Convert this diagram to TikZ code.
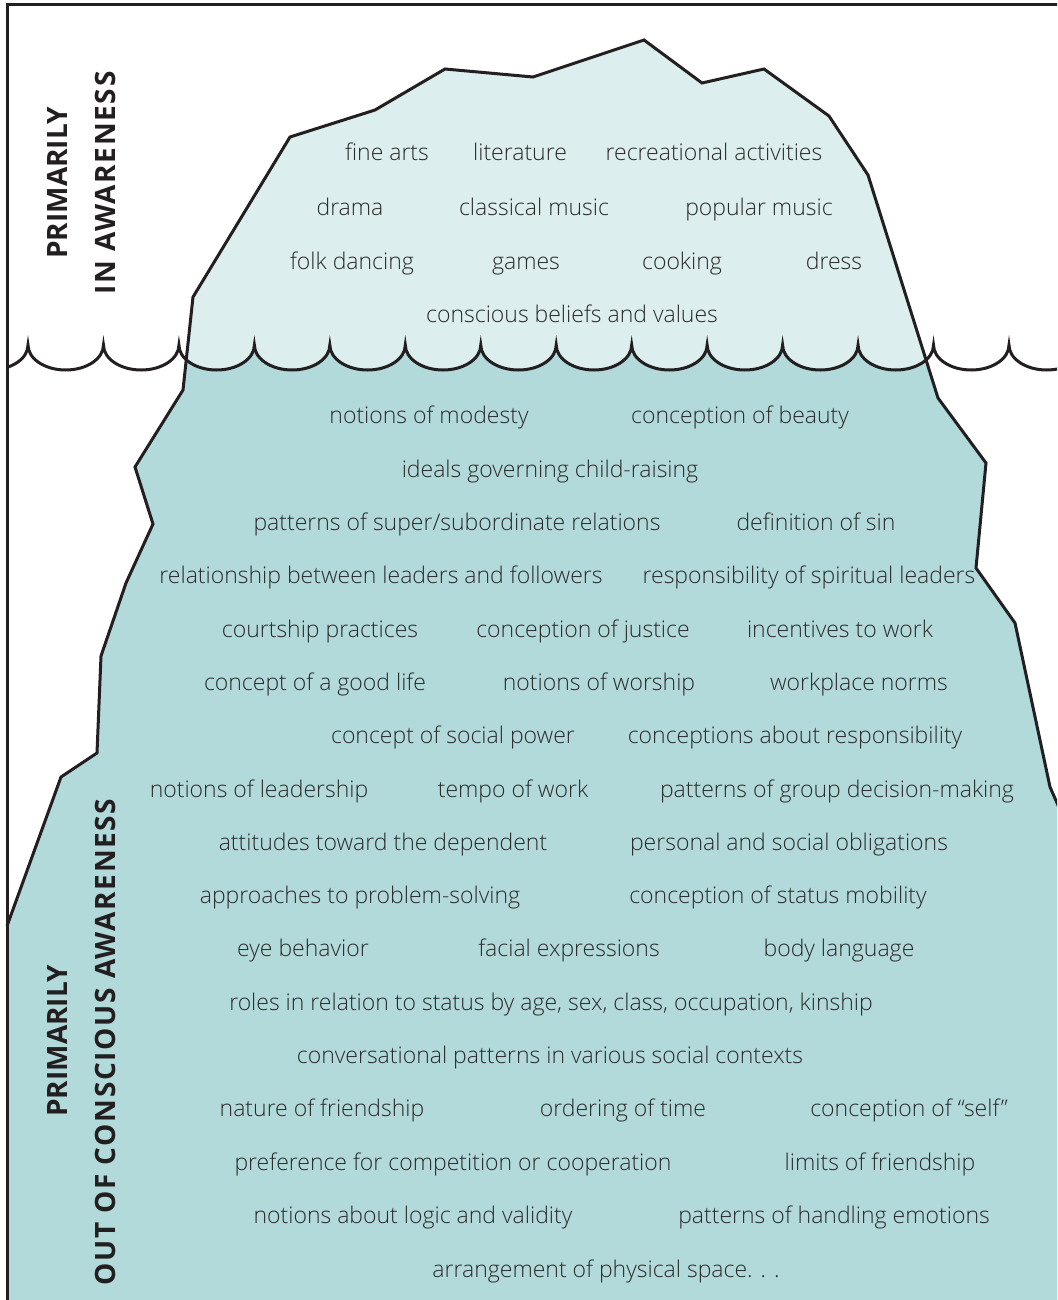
\documentclass[tikz,border=0pt]{standalone}
\usepackage{fontspec}
\IfFontExistsTF{Open Sans Light}{\newfontfamily\itemfont{Open Sans Light}}{\newfontfamily\itemfont{Open Sans}}
\newfontfamily\labelfont{Open Sans}
\newfontfamily\labelfontw{Open Sans}[LetterSpace=6]
\definecolor{ink}{HTML}{231F20}
\definecolor{txt}{HTML}{2A2A2A}
\definecolor{iceL}{HTML}{DCEEEE}
\definecolor{iceD}{HTML}{B3DADB}
\begin{document}
\begin{tikzpicture}[x=1pt,y=-1pt,
  edge/.style={line width=3pt, draw=ink, line join=miter},
  item/.style={anchor=base, inner sep=0pt, text=txt, font=\itemfont\fontsize{23}{27}\selectfont},
  lab/.style={rotate=90, inner sep=0pt, text=ink, font=\labelfont\bfseries\fontsize{28}{31}\selectfont},
  labw/.style={rotate=90, inner sep=0pt, text=ink, font=\labelfontw\bfseries\fontsize{28}{31}\selectfont}]
\useasboundingbox (0,0) rectangle (1057,1300);
\clip (0,0) rectangle (1057,1300);
% iceberg outline points
\coordinate (bl) at (7,1310);
\coordinate (p1) at (7,926);
\coordinate (p2) at (61,777);
\coordinate (p3) at (97,753);
\coordinate (p4) at (101,656);
\coordinate (p5) at (126,583);
\coordinate (p6) at (153,524);
\coordinate (p7) at (135,467);
\coordinate (p8) at (183,390);
\coordinate (p9) at (193,297);
\coordinate (p10) at (290,137);
\coordinate (p11) at (375,110);
\coordinate (p12) at (445,69);
\coordinate (p13) at (533,77);
\coordinate (p14) at (644,40);
\coordinate (p15) at (702,83);
\coordinate (p16) at (764,69);
\coordinate (p17) at (829,116);
\coordinate (p18) at (868,175);
\coordinate (p19) at (938,398);
\coordinate (p20) at (986,463);
\coordinate (p21) at (976,568);
\coordinate (p22) at (1015,623);
\coordinate (p23) at (1050,787);
\coordinate (p24) at (1061,812);
\coordinate (br) at (1070,1310);
% light fill (whole berg)
\fill[iceL] (bl) -- (p1) -- (p2) -- (p3) -- (p4) -- (p5) -- (p6) -- (p7) -- (p8) -- (p9) -- (p10) -- (p11) -- (p12) -- (p13) -- (p14) -- (p15) -- (p16) -- (p17) -- (p18) -- (p19) -- (p20) -- (p21) -- (p22) -- (p23) -- (p24) -- (br) -- cycle;
% dark fill below waterline
\begin{scope}
\clip (-47.46,345) \foreach \i in {0,...,14} { .. controls ({-47.46+75.46*\i},358.8) and ({-30.57+75.46*\i},370) .. ({-9.73+75.46*\i},370) .. controls ({11.11+75.46*\i},370) and ({28+75.46*\i},358.8) .. ({28+75.46*\i},345) } -- (1100,1320) -- (-47.46,1320) -- cycle;
\fill[iceD] (bl) -- (p1) -- (p2) -- (p3) -- (p4) -- (p5) -- (p6) -- (p7) -- (p8) -- (p9) -- (p10) -- (p11) -- (p12) -- (p13) -- (p14) -- (p15) -- (p16) -- (p17) -- (p18) -- (p19) -- (p20) -- (p21) -- (p22) -- (p23) -- (p24) -- (br) -- cycle;
\end{scope}
% outline
\draw[edge] (p1) -- (p2) -- (p3) -- (p4) -- (p5) -- (p6) -- (p7) -- (p8) -- (p9) -- (p10) -- (p11) -- (p12) -- (p13) -- (p14) -- (p15) -- (p16) -- (p17) -- (p18) -- (p19) -- (p20) -- (p21) -- (p22) -- (p23) -- (p24);
% waterline
\begin{scope}
\clip (7,0) rectangle (1057,1300);
\draw[edge] (-47.46,345) \foreach \i in {0,...,14} { .. controls ({-47.46+75.46*\i},358.8) and ({-30.57+75.46*\i},370) .. ({-9.73+75.46*\i},370) .. controls ({11.11+75.46*\i},370) and ({28+75.46*\i},358.8) .. ({28+75.46*\i},345) };
\end{scope}
% frame
\coordinate (fb) at (7,1310);
\coordinate (fc) at (7,5);
\coordinate (fr) at (1070,5);
\draw[edge] (fb) -- (fc) -- (fr);
% side labels
\node[lab] (la1) at (57,183) {PRIMARILY};
\node[labw] (la2) at (105,183) {IN AWARENESS};
\node[lab] (lb1) at (57,1041) {PRIMARILY};
\node[labw] (lb2) at (105,1042) {OUT OF CONSCIOUS AWARENESS};
% items above water
\node[item] (n1) at (387,161) {fine arts};
\node[item] (n2) at (520,161) {literature};
\node[item] (n3) at (714,161) {recreational activities};
\node[item] (n4) at (350,215) {drama};
\node[item] (n5) at (534,215) {classical music};
\node[item] (n6) at (759,215) {popular music};
\node[item] (n7) at (352,269) {folk dancing};
\node[item] (n8) at (526,269) {games};
\node[item] (n9) at (682,269) {cooking};
\node[item] (n10) at (834,269) {dress};
\node[item] (n11) at (572,322) {conscious beliefs and values};
% items below water
\node[item] (n12) at (429,423) {notions of modesty};
\node[item] (n13) at (740,423) {conception of beauty};
\node[item] (n14) at (550,477) {ideals governing child-raising};
\node[item] (n15) at (457,530) {patterns of super/subordinate relations};
\node[item] (n16) at (816,530) {definition of sin};
\node[item] (n17) at (381,583) {relationship between leaders and followers};
\node[item] (n18) at (809,583) {responsibility of spiritual leaders};
\node[item] (n19) at (320,637) {courtship practices};
\node[item] (n20) at (583,637) {conception of justice};
\node[item] (n21) at (840,637) {incentives to work};
\node[item] (n22) at (315,690) {concept of a good life};
\node[item] (n23) at (599,690) {notions of worship};
\node[item] (n24) at (859,690) {workplace norms};
\node[item] (n25) at (453,743) {concept of social power};
\node[item] (n26) at (795,743) {conceptions about responsibility};
\node[item] (n27) at (259,797) {notions of leadership};
\node[item] (n28) at (513,797) {tempo of work};
\node[item] (n29) at (837,797) {patterns of group decision-making};
\node[item] (n30) at (383,850) {attitudes toward the dependent};
\node[item] (n31) at (789,850) {personal and social obligations};
\node[item] (n32) at (360,903) {approaches to problem-solving};
\node[item] (n33) at (778,903) {conception of status mobility};
\node[item] (n34) at (303,956) {eye behavior};
\node[item] (n35) at (569,956) {facial expressions};
\node[item] (n36) at (839,956) {body language};
\node[item] (n37) at (551,1010) {roles in relation to status by age, sex, class, occupation, kinship};
\node[item] (n38) at (550,1063) {conversational patterns in various social contexts};
\node[item] (n39) at (322,1116) {nature of friendship};
\node[item] (n40) at (623,1116) {ordering of time};
\node[item] (n41) at (909,1116) {conception of “self”};
\node[item] (n42) at (453,1170) {preference for competition or cooperation};
\node[item] (n43) at (880,1170) {limits of friendship};
\node[item] (n44) at (413,1223) {notions about logic and validity};
\node[item] (n45) at (834,1223) {patterns of handling emotions};
\node[item] (n46) at (606,1277) {arrangement of physical space. . .};
\end{tikzpicture}
\end{document}
